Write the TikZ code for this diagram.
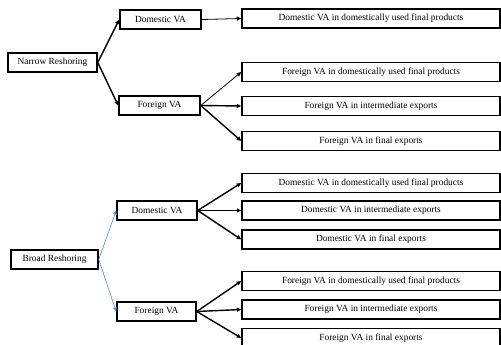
\documentclass[tikz,border=0pt]{standalone}
\usepackage{fontspec}
\setmainfont{Liberation Serif}
\usetikzlibrary{arrows.meta}
\definecolor{linkblue}{RGB}{91,140,220}

\tikzset{
  box/.style={draw, line width=1.5pt, minimum height=19pt, inner sep=0pt,
    font=\fontsize{9.4}{11}\selectfont},
  widebox/.style={box, minimum width=258pt},
  link/.style={-{Triangle[length=4.5pt,width=4pt]}, line width=1.4pt},
  thinlink/.style={-{Triangle[length=4.5pt,width=4pt]}, line width=0.8pt},
  bluelink/.style={-{Triangle[length=4pt,width=3.5pt]}, line width=0.6pt, draw=linkblue, fill=linkblue},
}

\begin{document}
\begin{tikzpicture}[x=1pt, y=-1pt]

\useasboundingbox (0,0) rectangle (501,345);
\clip (0,0) rectangle (501,345);

\def\rx{371} % centre des boites de droite

% narrow reshoring
\node[box, minimum width=89pt] (narrow) at (52.5, 62.5) {Narrow Reshoring};
\node[box, minimum width=81pt] (ndom) at (160.5, 19.5) {Domestic VA};
\node[box, minimum width=81pt] (nfor) at (159.5, 105.5) {Foreign VA};

\foreach \n/\y/\txt in {1/18.5/Domestic VA in domestically used final products,
                        2/72/Foreign VA in domestically used final products,
                        3/106/Foreign VA in intermediate exports,
                        4/141/Foreign VA in final exports} {
    \node[widebox] (n\n) at (\rx, \y) {\txt};
}

\draw[link] (narrow.east) -- (ndom.west);
\draw[link] (narrow.east) -- (nfor.west);
\draw[thinlink] (ndom.east) -- (n1.west);
\draw[thinlink] (nfor.east) -- (n2.west);
\foreach \n in {3,4}
    \draw[link] (nfor.east) -- (n\n.west);

% broad reshoring
\node[box, minimum width=87pt] (broad) at (54.5, 259.5) {Broad Reshoring};
\node[box, minimum width=80pt] (bdom) at (157, 210.5) {Domestic VA};
\node[box, minimum width=79pt] (bfor) at (156.5, 311.5) {Foreign VA};

\foreach \n/\y/\txt in {1/183/Domestic VA in domestically used final products,
                        2/210.5/Domestic VA in intermediate exports,
                        3/239.5/Domestic VA in final exports,
                        4/281/Foreign VA in domestically used final products,
                        5/309.5/Foreign VA in intermediate exports,
                        6/338/Foreign VA in final exports} {
    \node[widebox] (b\n) at (\rx, \y) {\txt};
}

\draw[bluelink] (broad.east) -- (bdom.west);
\draw[bluelink] (broad.east) -- (bfor.west);
\foreach \n in {1,2,3}
    \draw[link] (bdom.east) -- (b\n.west);
\foreach \n in {4,5,6}
    \draw[link] (bfor.east) -- (b\n.west);

\end{tikzpicture}
\end{document}
